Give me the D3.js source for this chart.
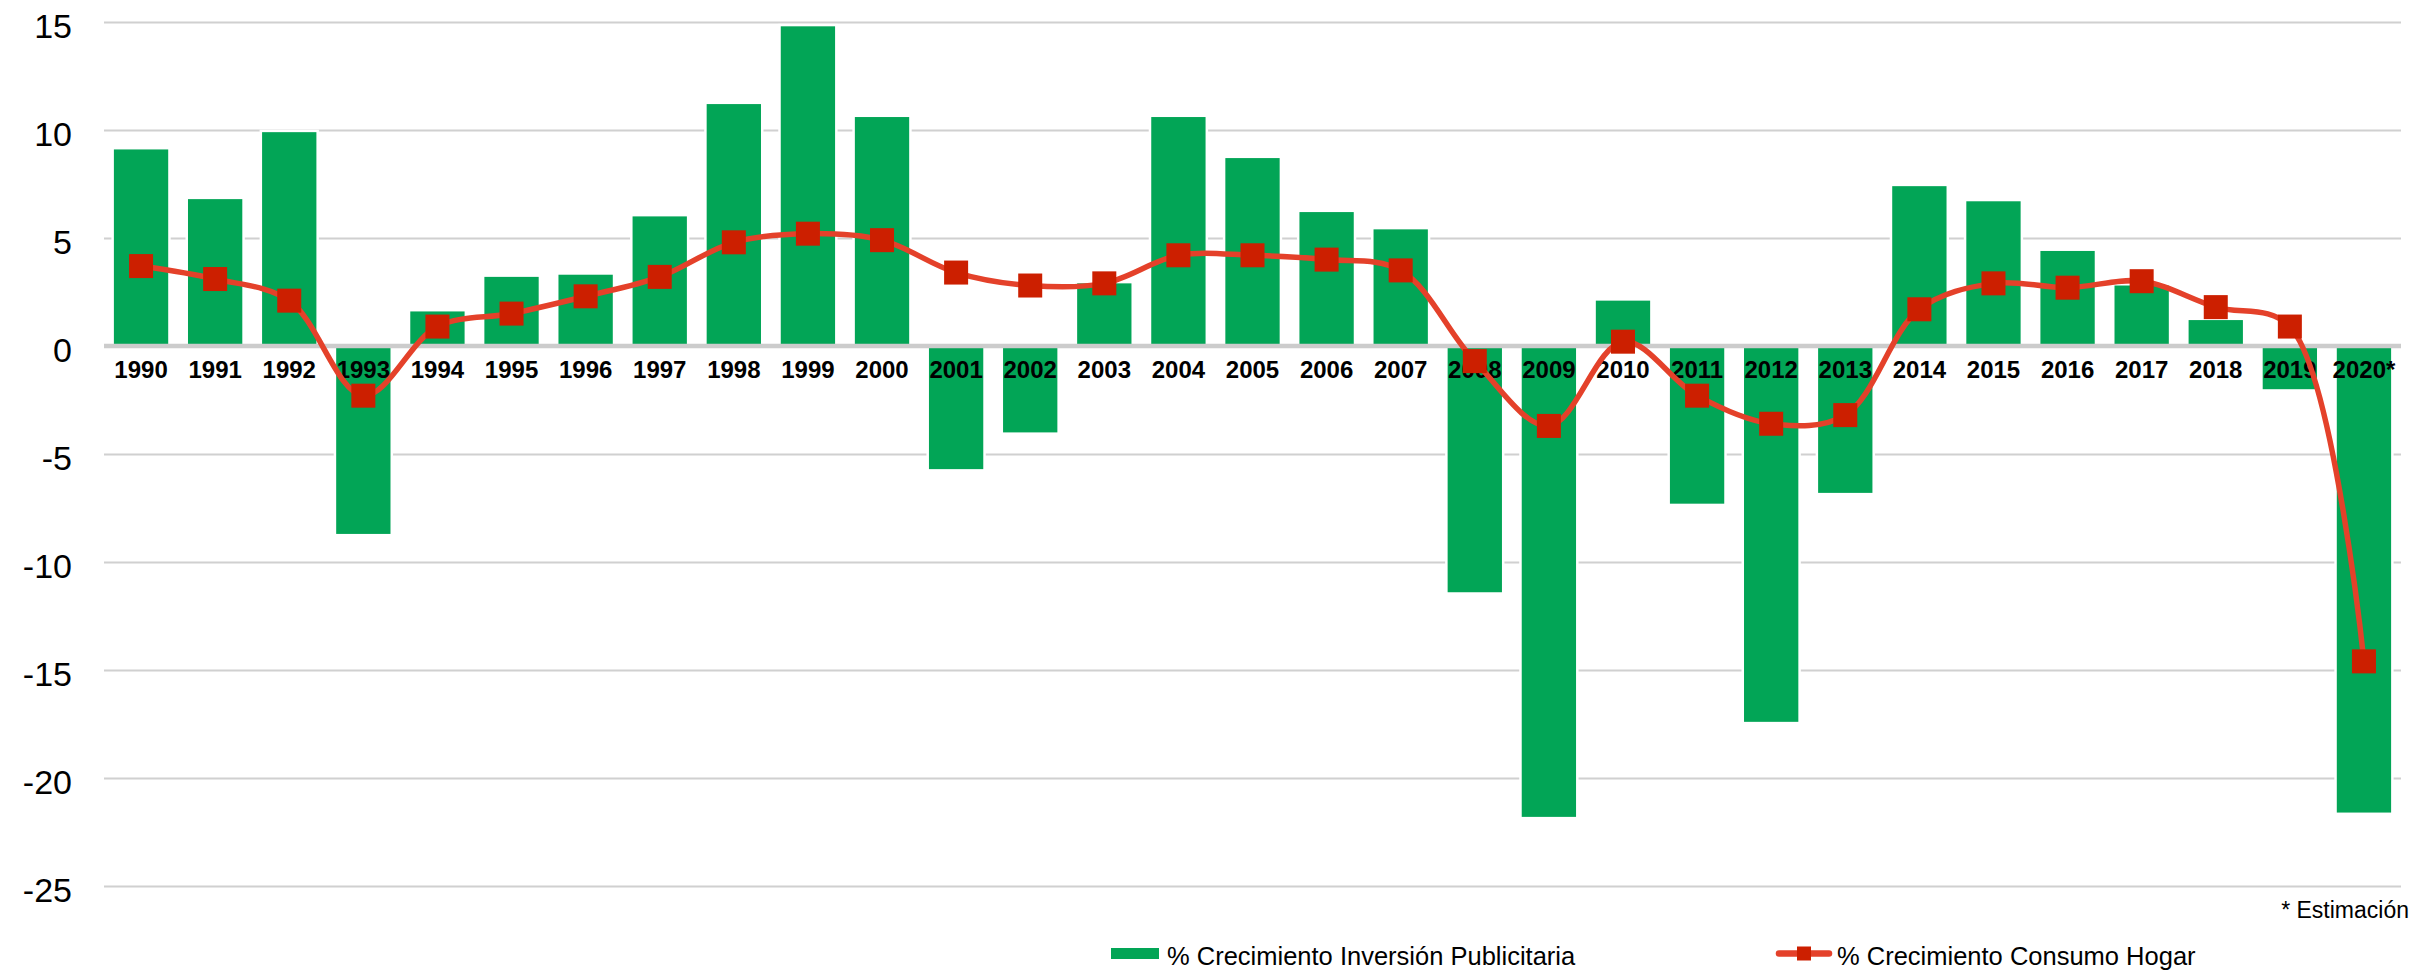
<!DOCTYPE html>
<html>
<head>
<meta charset="utf-8">
<script src="https://cdn.jsdelivr.net/npm/d3@7"></script>
<style>
  body { margin: 0; background: #fff; }
  svg { display: block; font-family: "Liberation Sans", Arial, sans-serif; }
</style>
</head>
<body>
<svg id="chart"></svg>
<script>
// data
var years = ["1990","1991","1992","1993","1994","1995","1996","1997","1998","1999","2000",
             "2001","2002","2003","2004","2005","2006","2007","2008","2009","2010",
             "2011","2012","2013","2014","2015","2016","2017","2018","2019","2020*"];
var inversion = [9.1, 6.8, 9.9, -8.7, 1.6, 3.2, 3.3, 6.0, 11.2, 14.8, 10.6,
                 -5.7, -4.0, 2.9, 10.6, 8.7, 6.2, 5.4, -11.4, -21.8, 2.1,
                 -7.3, -17.4, -6.8, 7.4, 6.7, 4.4, 2.8, 1.2, -2.0, -21.6];
var consumo = [3.7, 3.1, 2.1, -2.3, 0.9, 1.5, 2.3, 3.2, 4.8, 5.2, 4.9,
               3.4, 2.8, 2.9, 4.2, 4.2, 4.0, 3.5, -0.7, -3.7, 0.2,
               -2.3, -3.6, -3.2, 1.7, 2.9, 2.7, 3.0, 1.8, 0.9, -14.6];
var yTicks = [15, 10, 5, 0, -5, -10, -15, -20, -25];
var serieNames = ["% Crecimiento Inversión Publicitaria", "% Crecimiento Consumo Hogar"];
var nota = "* Estimación";

var width = 2434, height = 972;
var green = "#02a556", lineColor = "#e4412a", markColor = "#cc1f00";

var svg = d3.select("#chart")
    .attr("width", width)
    .attr("height", height);

// scales
var x = d3.scaleBand()
    .domain(years)
    .range([104, 2401])
    .paddingInner(0.267)
    .paddingOuter(0.1335);

var y = d3.scaleLinear()
    .domain([-25, 15])
    .range([886, 22]);

// gridlines + y labels
var yAxis = d3.axisLeft(y)
    .tickValues(yTicks)
    .tickSizeInner(-(2401 - 104))
    .tickSizeOuter(0)
    .tickPadding(32)
    .tickFormat(d3.format("d"));

var gy = svg.append("g")
    .attr("transform", "translate(104,0)")
    .call(yAxis);
gy.select(".domain").remove();
gy.selectAll("line").attr("stroke", "#d0d0d0").attr("stroke-width", 2);
gy.selectAll("text")
    .attr("font-size", 34)
    .attr("fill", "#000")
    .attr("dy", 15.5)
    .text(function (d) { return d < 0 ? "-" + Math.abs(d) : d; });

// bars (white halo first so gridlines break around them)
var bars = svg.append("g");
bars.selectAll("rect.halo")
    .data(inversion).enter()
    .append("rect")
    .attr("class", "halo")
    .attr("x", function (d, i) { return x(years[i]) - 2.5; })
    .attr("width", x.bandwidth() + 5)
    .attr("y", function (d) { return Math.min(y(d), y(0)) - 2.5; })
    .attr("height", function (d) { return Math.abs(y(d) - y(0)) + 5; })
    .attr("fill", "#fff");
bars.selectAll("rect.bar")
    .data(inversion).enter()
    .append("rect")
    .attr("class", "bar")
    .attr("x", function (d, i) { return x(years[i]); })
    .attr("width", x.bandwidth())
    .attr("y", function (d) { return Math.min(y(d), y(0)); })
    .attr("height", function (d) { return Math.abs(y(d) - y(0)); })
    .attr("fill", green);

// zero line
svg.append("line")
    .attr("x1", 104).attr("x2", 2401)
    .attr("y1", y(0)).attr("y2", y(0))
    .attr("stroke", "#cccccc")
    .attr("stroke-width", 4.5);

// year labels on the zero line
var xAxis = d3.axisBottom(x).tickSize(0).tickPadding(15);
var gx = svg.append("g")
    .attr("transform", "translate(0," + y(0) + ")")
    .call(xAxis);
gx.select(".domain").remove();
gx.selectAll("text")
    .attr("font-size", 24)
    .attr("font-weight", "bold")
    .attr("fill", "#000");

// smoothed line
var line = d3.line()
    .x(function (d, i) { return x(years[i]) + x.bandwidth() / 2; })
    .y(function (d) { return y(d); })
    .curve(d3.curveCatmullRom.alpha(0.5));

svg.append("path")
    .datum(consumo)
    .attr("d", line)
    .attr("fill", "none")
    .attr("stroke", lineColor)
    .attr("stroke-width", 5.5)
    .attr("stroke-linejoin", "round");

var ms = 24;
svg.append("g").selectAll("rect")
    .data(consumo).enter()
    .append("rect")
    .attr("x", function (d, i) { return x(years[i]) + x.bandwidth() / 2 - ms / 2; })
    .attr("y", function (d) { return y(d) - ms / 2; })
    .attr("width", ms)
    .attr("height", ms)
    .attr("fill", markColor);

// note
svg.append("text")
    .attr("x", 2409)
    .attr("y", 917.5)
    .attr("text-anchor", "end")
    .attr("font-size", 23)
    .attr("fill", "#000")
    .text(nota);

// legend
var leg = svg.append("g");
leg.append("rect")
    .attr("x", 1111).attr("y", 948)
    .attr("width", 48).attr("height", 11)
    .attr("fill", green);
leg.append("text")
    .attr("x", 1167).attr("y", 965)
    .attr("font-size", 25.5)
    .attr("fill", "#000")
    .text(serieNames[0]);

leg.append("line")
    .attr("x1", 1779).attr("x2", 1829)
    .attr("y1", 953.5).attr("y2", 953.5)
    .attr("stroke", lineColor)
    .attr("stroke-width", 6.5)
    .attr("stroke-linecap", "round");
leg.append("rect")
    .attr("x", 1797).attr("y", 946.5)
    .attr("width", 14).attr("height", 14)
    .attr("fill", markColor);
leg.append("text")
    .attr("x", 1837).attr("y", 965)
    .attr("font-size", 25.5)
    .attr("fill", "#000")
    .text(serieNames[1]);
</script>
</body>
</html>
